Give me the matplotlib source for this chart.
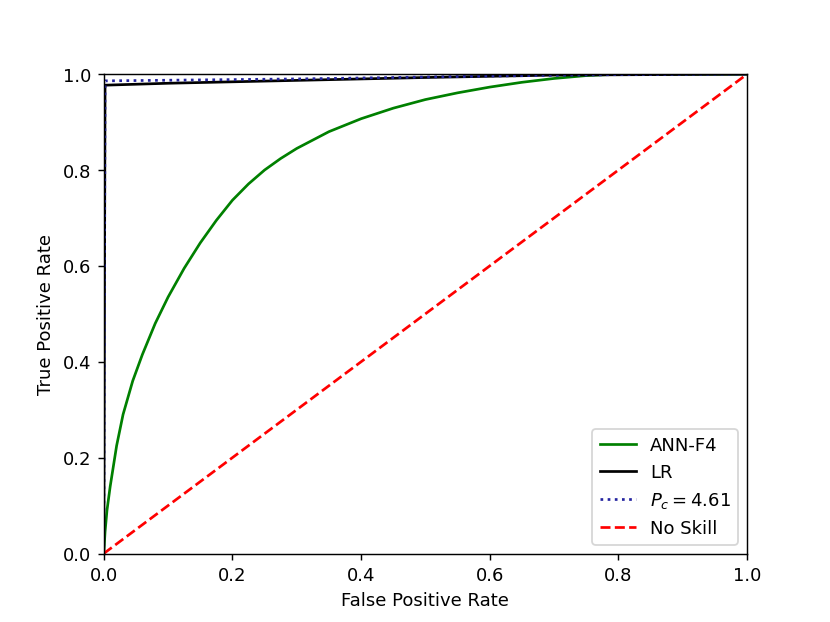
import matplotlib
matplotlib.use("Agg")
import matplotlib.pyplot as plt

# ANN-F4 ROC curve
ann_fpr = [0.0, 0.002, 0.005, 0.01, 0.02, 0.03, 0.045, 0.06, 0.08, 0.10, 0.125, 0.15,
           0.175, 0.20, 0.225, 0.25, 0.275, 0.30, 0.35, 0.40, 0.45, 0.50, 0.55, 0.60,
           0.65, 0.70, 0.75, 0.80, 1.0]
ann_tpr = [0.0, 0.045, 0.09, 0.14, 0.225, 0.29, 0.36, 0.415, 0.48, 0.535, 0.595, 0.648,
           0.695, 0.737, 0.771, 0.800, 0.824, 0.845, 0.880, 0.907, 0.929, 0.947, 0.961, 0.973,
           0.983, 0.991, 0.997, 1.0, 1.0]

# LR ROC curve
lr_fpr = [0.0, 0.002, 0.1, 0.3, 0.5, 0.7, 1.0]
lr_tpr = [0.0, 0.977, 0.981, 0.987, 0.993, 0.998, 1.0]

# P_c = 4.61 curve
pc_fpr = [0.0, 0.002, 0.3, 0.6, 0.8, 1.0]
pc_tpr = [0.0, 0.986, 0.990, 0.996, 0.999, 1.0]

# No skill
ns_fpr = [0.0, 1.0]
ns_tpr = [0.0, 1.0]

fig, ax = plt.subplots(figsize=(6.4, 4.8), dpi=129.7)
fig.subplots_adjust(left=0.125, right=0.9, bottom=0.11, top=0.88)

ax.plot(ann_fpr, ann_tpr, color='green', lw=1.5, label='ANN-F4')
ax.plot(lr_fpr, lr_tpr, color='black', lw=1.5, label='LR')
ax.plot(pc_fpr, pc_tpr, color='#2424a0', lw=1.5, linestyle=':', label=r'$P_c = 4.61$')
ax.plot(ns_fpr, ns_tpr, color='red', lw=1.5, linestyle='--', label='No Skill')

ax.set_xlim(0, 1)
ax.set_ylim(0, 1)
ax.set_xlabel('False Positive Rate')
ax.set_ylabel('True Positive Rate')
ax.legend(loc='lower right')

fig.savefig('out.png', dpi=129.7)
